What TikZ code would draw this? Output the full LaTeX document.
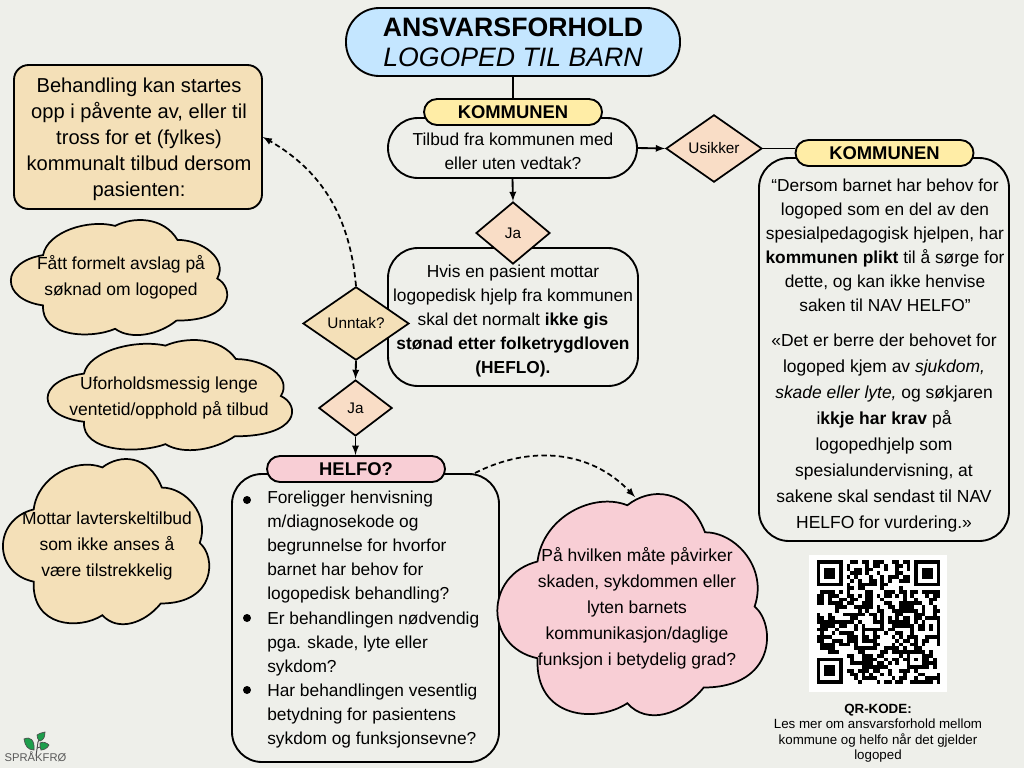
\documentclass[tikz,border=0pt]{standalone}
\usepackage{fontspec}
\setmainfont{Liberation Sans}
\usetikzlibrary{shapes.geometric}

\definecolor{bgcol}{HTML}{EEEFEA}
\definecolor{titlecol}{HTML}{C4E6FF}
\definecolor{yellowcol}{HTML}{FFEDA6}
\definecolor{peachcol}{HTML}{F9DDC6}
\definecolor{tancol}{HTML}{F4E0B8}
\definecolor{pinkcol}{HTML}{F8CED5}
\definecolor{leafcol}{HTML}{1E9E4C}

\newcommand{\bodyfont}{\fontsize{13}{18}\selectfont}
\newcommand{\widefont}{\fontsize{13.1}{19.5}\selectfont}
% lumpy outline: name, left, top, width, height, colour (all in pixels)
\newcommand{\puffy}[6]{
  \begin{scope}[shift={(#2,#3)},x=#4*0.75pt,y=#5*-0.75pt]
  \coordinate (#1) at (0.5,0.5);
  \filldraw[fill=#6,line width=1.3pt] (0.14,0.30)
    .. controls (0.16,0.10) and (0.35,-0.01) .. (0.475,0.05)
    .. controls (0.56,-0.03) and (0.70,-0.03) .. (0.765,0.17)
    .. controls (0.88,0.17) and (1.0,0.33) .. (0.95,0.50)
    .. controls (1.03,0.58) and (1.03,0.86) .. (0.76,0.86)
    .. controls (0.68,0.98) and (0.55,1.03) .. (0.475,0.93)
    .. controls (0.36,1.02) and (0.13,1.0) .. (0.14,0.73)
    .. controls (-0.06,0.68) and (-0.06,0.36) .. (0.14,0.30) -- cycle;
  \end{scope}
}

\tikzset{
  roundbox/.style={draw,line width=1.4pt,rectangle,rounded corners=22.5pt},
  pill/.style={draw,line width=1.4pt,rectangle,rounded corners=9.75pt,minimum width=133.5pt,minimum height=19.5pt,inner sep=0pt,font=\fontsize{13.8}{15}\bfseries},
  choice/.style={draw,line width=1.3pt,diamond,inner sep=0pt,aspect=1.4,font=\fontsize{11.5}{13}\selectfont},
  flow/.style={line width=1.4pt,->},
  flowdash/.style={line width=1.3pt,dash pattern=on 4pt off 2.5pt,->},
  txt/.style={inner sep=0pt,align=center,font=\bodyfont},
  txtwide/.style={inner sep=0pt,align=center,font=\widefont},
  txtleft/.style={inner sep=0pt,align=left,anchor=north west,font=\bodyfont},
  dot/.style={circle,fill=black,inner sep=0pt,minimum size=6pt},
  leaf/.style={fill=leafcol,draw=black!70,line width=0.5pt}
}

\begin{document}
\begin{tikzpicture}[x=0.75pt,y=-0.75pt,>=latex]
\useasboundingbox (0,0) rectangle (1024,768);
\fill[bgcol] (0,0) rectangle (1024,768);

% title and the first question
\node[roundbox,fill=titlecol,rounded corners=25pt,minimum width=250.5pt,minimum height=51pt,align=center,inner sep=0pt,font=\fontsize{20}{22.5}\selectfont](title) at (513,42) {\textbf{ANSVARSFORHOLD}\\\textit{LOGOPED TIL BARN}};

\node[roundbox,minimum width=186.75pt,minimum height=45pt](tilbud) at (512.5,148) {};
\node[pill,fill=yellowcol](kommune) at (513,112) {KOMMUNEN};
\node[txt](tilbudtxt) at (513,151) {Tilbud fra kommunen med\\eller uten vedtak?};

\node[roundbox,minimum width=187.5pt,minimum height=103.5pt](hvis) at (513,317) {};
\node[txt](hvistxt) at (513,321.5) {Hvis en pasient mottar\\logopedisk hjelp fra kommunen\\skal det normalt \textbf{ikke gis}\\\textbf{stønad etter folketrygdloven}\\\textbf{(HEFLO).}};
\node[choice,fill=peachcol,minimum width=55.5pt,minimum height=46.5pt](ja) at (513,233) {Ja};

% right column
\node[choice,fill=peachcol,minimum width=72pt,minimum height=50.5pt](usikker) at (714,148.5) {Usikker};
\node[roundbox,minimum width=187.5pt,minimum height=287.25pt](plikt) at (884,349.5) {};
\node[pill,fill=yellowcol](kommunetwo) at (884.5,153) {KOMMUNEN};
\node[txt](plikttxt) at (885,245) {“Dersom barnet har behov for\\logoped som en del av den\\spesialpedagogisk hjelpen, har\\\textbf{kommunen plikt} til å sørge for\\dette, og kan ikke henvise\\saken til NAV HELFO”};
\node[txtwide](krav) at (884,433) {«Det er berre der behovet for\\logoped kjem av \textit{sjukdom,}\\\textit{skade eller lyte,} og søkjaren\\i\textbf{kkje har krav} på\\logopedhjelp som\\spesialundervisning, at\\sakene skal sendast til NAV\\HELFO for vurdering.»};

% left column
\node[roundbox,fill=tancol,rounded corners=11pt,minimum width=186pt,minimum height=108pt](start) at (138,137) {};
\node[inner sep=0pt,align=center,font=\fontsize{15.1}{19.5}\selectfont](starttxt) at (139,139) {Behandling kan startes\\opp i påvente av, eller til\\tross for et (fylkes)\\kommunalt tilbud dersom\\pasienten:};

\puffy{avslag}{13}{220}{215}{117}{tancol}
\node[txtwide](avslagtxt) at (121,277) {Fått formelt avslag på\\søknad om logoped};
\puffy{ventetid}{50}{340}{243}{112}{tancol}
\node[txtwide](ventetidtxt) at (169,398) {Uforholdsmessig lenge\\ventetid/opphold på tilbud};
\puffy{lavterskel}{5}{459}{205}{168}{tancol}
\node[txtwide](lavterskeltxt) at (107,546) {Mottar lavterskeltilbud\\som ikke anses å\\være tilstrekkelig};

% middle column
\node[choice,fill=tancol,minimum width=79.5pt,minimum height=55pt](unntak) at (356,323.5) {Unntak?};
\node[choice,fill=peachcol,minimum width=55pt,minimum height=42pt](jatwo) at (355.5,408) {Ja};

\node[roundbox,minimum width=200.25pt,minimum height=216pt](helfobox) at (365.5,618) {};
\node[pill,fill=pinkcol](helfo) at (356,469) {HELFO?};
\node[dot](dota) at (247,500) {};
\node[dot](dotb) at (247,618) {};
\node[dot](dotc) at (247,690) {};
\node[txtleft](bula) at (267,491) {Foreligger henvisning\\m/diagnosekode og\\begrunnelse for hvorfor\\barnet har behov for\\logopedisk behandling?};
\node[txtleft](bulb) at (267,612) {Er behandlingen nødvendig\\pga. skade, lyte eller\\sykdom?};
\node[txtleft](bulc) at (267,684) {Har behandlingen vesentlig\\betydning for pasientens\\sykdom og funksjonsevne?};

\puffy{skade}{500}{494}{268}{225}{pinkcol}
\node[txtwide](skadetxt) at (637,608) {På hvilken måte påvirker\\skaden, sykdommen eller\\lyten barnets\\kommunikasjon/daglige\\funksjon i betydelig grad?};

% connectors
\draw[line width=1.4pt] (title) -- (kommune);
\draw[flow] (tilbud.south) -- (ja.north);
\draw[flow] (tilbud.east) -- (usikker.west);
\draw[line width=1.4pt] (usikker.east) -- (usikker.east -| kommunetwo.west);
\draw[flow] (unntak.south) -- (jatwo.north);
\draw[flow] (jatwo.south) -- (helfo.north -| jatwo.south);
\draw[flowdash] (unntak.north) to[out=95,in=-30] (start.east);
\coordinate (helfoend) at (475,473);
\coordinate (skadetop) at (635,497);
\draw[flowdash] (helfoend) .. controls (530,445) and (590,450) .. (skadetop);

% QR code
\node[fill=white,minimum size=103pt,inner sep=0pt](qr) at (878,623.5) {};
\begin{scope}[shift={(816.5,560)}]
\pgfmathsetseed{4711}
\foreach \i in {0,...,32}{
  \foreach \j in {0,...,32}{
    \pgfmathrandominteger{\bit}{0}{1}
    \ifnum\bit=1
      \ifnum\i<8 \ifnum\j<8 \else \ifnum\j>24 \else
        \fill (\i*3.75,\j*3.75) rectangle ++(3.8,3.8);
      \fi\fi
      \else\ifnum\i>24 \ifnum\j<8 \else
        \fill (\i*3.75,\j*3.75) rectangle ++(3.8,3.8);
      \fi
      \else
        \fill (\i*3.75,\j*3.75) rectangle ++(3.8,3.8);
      \fi\fi
    \fi
  }
}
\foreach \x/\y in {0/0,26/0,0/26}{
  \fill[white] (\x*3.75-3.75,\y*3.75-3.75) rectangle ++(33.75,33.75);
  \fill (\x*3.75,\y*3.75) rectangle ++(26.25,26.25);
  \fill[white] (\x*3.75+3.75,\y*3.75+3.75) rectangle ++(18.75,18.75);
  \fill (\x*3.75+7.5,\y*3.75+7.5) rectangle ++(11.25,11.25);
}
\fill (90,90) rectangle ++(18.75,18.75);
\fill[white] (93.75,93.75) rectangle ++(11.25,11.25);
\fill (97.5,97.5) rectangle ++(3.75,3.75);
\end{scope}
\node[inner sep=0pt,align=center,font=\fontsize{10}{11.6}\selectfont](qrtxt) at (878,733) {\textbf{QR-KODE:}\\Les mer om ansvarsforhold mellom\\kommune og helfo når det gjelder\\logoped};

% logo
\draw[black!70,line width=0.7pt] (36,756) -- (38,742) -- (41,736);
\draw[black!70,line width=0.7pt] (37,748) -- (43,746);
\draw[leaf] (24,739) .. controls (30,736) and (35,740) .. (34,750) .. controls (28,750) and (25,746) .. (24,739) -- cycle;
\draw[leaf] (37,735) .. controls (39,733) and (42,733) .. (45,732) .. controls (45,736) and (44,740) .. (40,741) .. controls (38,740) and (37,738) .. (37,735) -- cycle;
\draw[leaf] (40,743) .. controls (43,741) and (47,743) .. (49,745) .. controls (47,749) and (43,750) .. (41,750) .. controls (40,748) and (40,746) .. (40,743) -- cycle;
\node[inner sep=0pt,text=black!65,font=\fontsize{8.4}{10}\selectfont](logo) at (35.5,757) {SPRÅKFRØ};

\end{tikzpicture}
\end{document}
